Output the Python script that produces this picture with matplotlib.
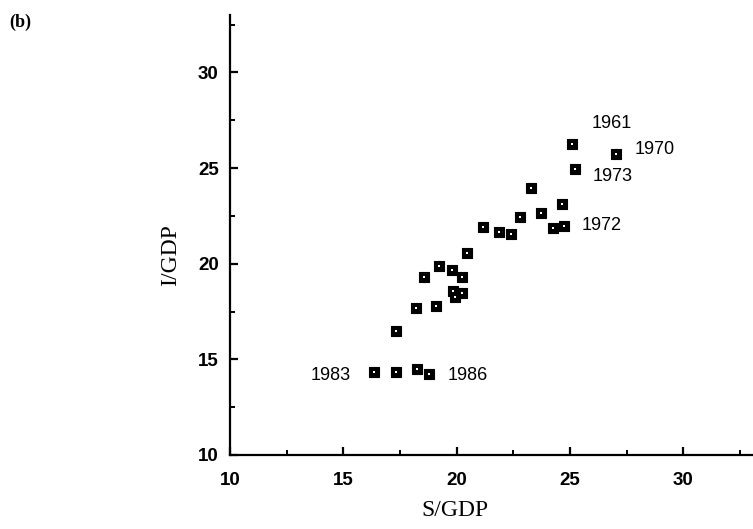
import matplotlib.pyplot as plt
from matplotlib.ticker import MultipleLocator

# S/GDP vs I/GDP, one point per year
s_gdp = [25.07, 27.03, 25.23, 23.26, 24.66, 23.73, 22.78, 24.75, 24.26,
         21.18, 21.87, 22.38, 20.44, 19.23, 19.78, 18.56, 20.25,
         19.84, 19.93, 20.23, 18.2, 19.09, 17.31,
         16.35, 17.34, 18.24, 18.79]
i_gdp = [26.28, 25.72, 24.94, 23.97, 23.1, 22.63, 22.43, 21.98, 21.88,
         21.9, 21.67, 21.53, 20.54, 19.89, 19.67, 19.32, 19.32,
         18.57, 18.25, 18.46, 17.66, 17.78, 16.46,
         14.34, 14.34, 14.48, 14.23]

year_labels = ["1961", "1970", "1973", "1972", "1983", "1986"]
label_x = [25.96, 27.87, 26.0, 25.51, 13.56, 19.6]
label_y = [27.35, 25.99, 24.54, 22.02, 14.18, 14.18]

fig = plt.figure(figsize=(7.53, 5.29), dpi=100)
ax = fig.add_axes([0.3054, 0.1399, 0.6946, 0.8317])

ax.scatter(s_gdp, i_gdp, marker='s', s=62, c='black', linewidths=0.8,
           edgecolors='black', zorder=3)
ax.scatter(s_gdp, i_gdp, marker='s', s=4.2, c='white', linewidths=0, zorder=4)

for t, x, y in zip(year_labels, label_x, label_y):
    ax.text(x, y, t, fontsize=13, family='Liberation Sans', ha='left', va='center')

ax.set_xlim(10, 33.07)
ax.set_ylim(10, 33)
ax.xaxis.set_major_locator(MultipleLocator(5))
ax.xaxis.set_minor_locator(MultipleLocator(2.5))
ax.yaxis.set_major_locator(MultipleLocator(5))
ax.yaxis.set_minor_locator(MultipleLocator(2.5))

for side in ['top', 'right']:
    ax.spines[side].set_visible(False)
for side in ['left', 'bottom']:
    ax.spines[side].set_linewidth(1.6)

ax.tick_params(which='major', direction='in', length=6, width=1.6, labelsize=13.5)
ax.tick_params(which='minor', direction='in', length=3.5, width=1.4)
ax.tick_params(axis='x', which='major', pad=12)
ax.tick_params(axis='y', which='major', pad=8)
for lab in ax.get_xticklabels() + ax.get_yticklabels():
    lab.set_family('Liberation Sans')
    lab.set_fontweight('bold')

fig.text(455 / 753, 1 - 511 / 529, "S/GDP", family='Liberation Serif', fontsize=17,
         ha='center', va='center')
fig.text(171 / 753, 1 - 255 / 529, "I/GDP", family='Liberation Serif', fontsize=17,
         ha='center', va='center', rotation=90)
fig.text(20 / 753, 1 - 22 / 529, "(b)", family='Liberation Serif', fontsize=13,
         fontweight='bold', ha='center', va='center')

plt.savefig('out.png', dpi=100)
